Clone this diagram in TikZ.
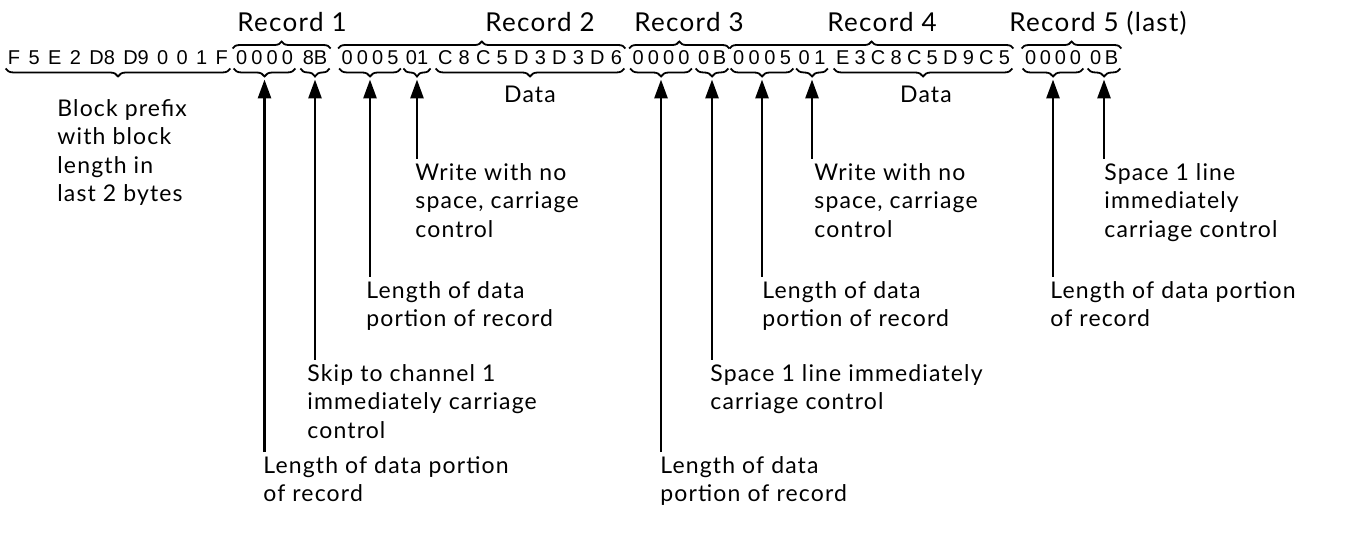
\documentclass[tikz,border=0pt]{standalone}
\usepackage{fontspec}
\setmainfont{Lato}
\newfontfamily\notefont[LetterSpace=5]{Lato}
\newfontfamily\hexfont{Liberation Sans}
\usetikzlibrary{positioning}
\usetikzlibrary{arrows.meta}
\usetikzlibrary{decorations.pathreplacing}
\tikzstyle{hexnode} = [inner sep=0pt, font=\hexfont\fontsize{10}{12}\selectfont]
\tikzstyle{notenode} = [anchor=north west, inner xsep=0pt, inner ysep=2pt, align=left, font=\notefont\fontsize{11.5}{14.25}\selectfont]
\tikzstyle{recnode} = [anchor=base, inner sep=0pt, font=\notefont\fontsize{13}{15}\selectfont]
\tikzstyle{datnode} = [anchor=base, inner sep=0pt, font=\notefont\fontsize{11.5}{14.25}\selectfont]
\tikzstyle{upbrace} = [decorate, decoration={brace, amplitude=3.5pt}, line width=0.9pt]
\tikzstyle{downbrace} = [decorate, decoration={brace, amplitude=4pt}, line width=0.9pt]
\tikzstyle{ptr} = [-{Triangle[width=6.5pt,length=9.5pt]}, line width=1.4pt]
\newcommand{\hexbox}[2]{\makebox[#1][s]{#2}}

\begin{document}
\begin{tikzpicture}[x=0.5pt, y=-0.5pt]
  \useasboundingbox (0,0) rectangle (1347,533);

  \node[hexnode] (pre) at (118,58) {\hexbox{110pt}{F 5 E 2 D8 D9 0 0 1 F}};
  \node[hexnode] (r1a) at (264.5,58) {\hexbox{28.5pt}{0 0 0 0}};
  \node[hexnode] (r1b) at (315,58) {8B};
  \node[hexnode] (r2a) at (370,58) {\hexbox{28.5pt}{0 0 0 5}};
  \node[hexnode] (r2b) at (417,58) {01};
  \node[hexnode] (r2c) at (530,58) {\hexbox{92pt}{C 8 C 5 D 3 D 3 D 6}};
  \node[hexnode] (r3a) at (661,58) {\hexbox{28.5pt}{0 0 0 0}};
  \node[hexnode] (r3b) at (712,58) {\hexbox{14pt}{0 B}};
  \node[hexnode] (r4a) at (762,58) {\hexbox{29pt}{0 0 0 5}};
  \node[hexnode] (r4b) at (812,58) {\hexbox{13.5pt}{0 1}};
  \node[hexnode] (r4c) at (923,58) {\hexbox{87pt}{E 3 C 8 C 5 D 9 C 5}};
  \node[hexnode] (r5a) at (1053,58) {\hexbox{28pt}{0 0 0 0}};
  \node[hexnode] (r5b) at (1104,58) {\hexbox{14pt}{0 B}};

  \node[recnode] (rec1) at (292,32) {Record 1};
  \node[recnode] (rec2) at (540,32) {Record 2};
  \node[recnode] (rec3) at (689,32) {Record 3};
  \node[recnode] (rec4) at (882,32) {Record 4};
  \node[recnode] (rec5) at (1098,32) {Record 5 (last)};

  \draw[upbrace] ([xshift=-1.5pt,yshift=1pt]r1a.north west) -- ([xshift=1.5pt,yshift=1pt]r1b.north east);
  \draw[upbrace] ([xshift=-1.5pt,yshift=1pt]r2a.north west) -- ([xshift=1.5pt,yshift=1pt]r2c.north east);
  \draw[upbrace] ([xshift=-1.5pt,yshift=1pt]r3a.north west) -- ([xshift=1.5pt,yshift=1pt]r3b.north east);
  \draw[upbrace] ([xshift=-1.5pt,yshift=1pt]r4a.north west) -- ([xshift=1.5pt,yshift=1pt]r4c.north east);
  \draw[upbrace] ([xshift=-1.5pt,yshift=1pt]r5a.north west) -- ([xshift=1.5pt,yshift=1pt]r5b.north east);

  \foreach \seg in {pre,r1a,r1b,r2a,r2b,r2c,r3a,r3b,r4a,r4b,r4c,r5a,r5b}
    \draw[downbrace] ([xshift=1pt,yshift=-1.5pt]\seg.south east) -- ([xshift=-1pt,yshift=-1.5pt]\seg.south west);

  \node[notenode] (blk) at (57,95) {Block prefix\\with block\\length in\\last 2 bytes};
  \node[datnode] (dat2) at (530,103) {Data};
  \node[datnode] (dat4) at (926,103) {Data};

  \node[notenode] (wr2) at (415,159) {Write with no\\space, carriage\\control};
  \node[notenode] (len2) at (366,277) {Length of data\\portion of record};
  \node[notenode] (skip1) at (307,360) {Skip to channel 1\\immediately carriage\\control};
  \node[notenode] (len1) at (263,452) {Length of data portion\\of record};
  \node[notenode] (len3) at (660,452) {Length of data\\portion of record};
  \node[notenode] (sp3) at (710,360) {Space 1 line immediately\\carriage control};
  \node[notenode] (len4) at (762,277) {Length of data\\portion of record};
  \node[notenode] (wr4) at (814,159) {Write with no\\space, carriage\\control};
  \node[notenode] (len5) at (1050,277) {Length of data portion\\of record};
  \node[notenode] (sp5) at (1104,159) {Space 1 line\\immediately\\carriage control};

  \draw[ptr] (r1a.south |- len1.north) -- ([yshift=-7pt]r1a.south);
  \draw[ptr] (r1b.south |- skip1.north) -- ([yshift=-7pt]r1b.south);
  \draw[ptr] (r2a.south |- len2.north) -- ([yshift=-7pt]r2a.south);
  \draw[ptr] (r2b.south |- wr2.north) -- ([yshift=-7pt]r2b.south);
  \draw[ptr] (r3a.south |- len3.north) -- ([yshift=-7pt]r3a.south);
  \draw[ptr] (r3b.south |- sp3.north) -- ([yshift=-7pt]r3b.south);
  \draw[ptr] (r4a.south |- len4.north) -- ([yshift=-7pt]r4a.south);
  \draw[ptr] (r4b.south |- wr4.north) -- ([yshift=-7pt]r4b.south);
  \draw[ptr] (r5a.south |- len5.north) -- ([yshift=-7pt]r5a.south);
  \draw[ptr] (r5b.south |- sp5.north) -- ([yshift=-7pt]r5b.south);
\end{tikzpicture}
\end{document}
